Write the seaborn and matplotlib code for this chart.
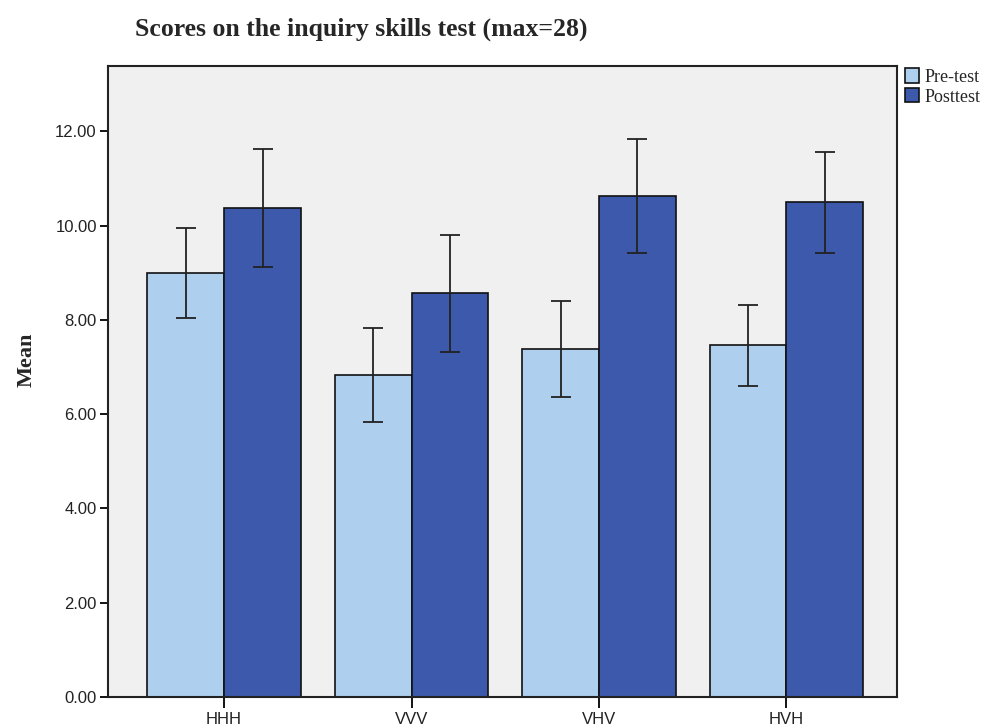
import matplotlib
matplotlib.use("Agg")
import matplotlib.pyplot as plt
import seaborn as sns
import pandas as pd
import numpy as np

groups = ["HHH", "VVV", "VHV", "HVH"]
tests = ["Pre-test", "Posttest"]
pre_means = [8.99, 6.83, 7.38, 7.46]
post_means = [10.37, 8.56, 10.62, 10.49]
pre_err = [0.96, 1.00, 1.01, 0.86]
post_err = [1.26, 1.24, 1.21, 1.07]
colors = ["#AED0EE", "#3D59AB"]

df = pd.DataFrame({
    "group": groups * 2,
    "test": [tests[0]] * 4 + [tests[1]] * 4,
    "mean": pre_means + post_means,
    "err": pre_err + post_err,
})

sns.set_style("white")
plt.rcParams["font.family"] = ["Liberation Sans", "DejaVu Sans"]
serif = ["Liberation Serif", "DejaVu Serif"]

fig = plt.figure(figsize=(9.9, 7.28), dpi=100)
ax = fig.add_axes([0.109, 0.0426, 0.797, 0.8665])
ax.set_facecolor("#F0F0F0")

sns.barplot(data=df, x="group", y="mean", hue="test", palette=colors,
            order=groups, hue_order=tests, errorbar=None, width=0.82,
            saturation=1, edgecolor="#111111", linewidth=1.2, ax=ax, legend=True)

# error bars at bar centres
for container, t in zip(ax.containers, tests):
    sub = df[df["test"] == t].set_index("group").loc[groups]
    xs = [p.get_x() + p.get_width() / 2 for p in container.patches]
    ax.errorbar(xs, sub["mean"].values, yerr=sub["err"].values, fmt="none",
                ecolor="#222222", elinewidth=1.3, capsize=7, capthick=1.3, zorder=5)

ax.set_xlim(-0.62, 3.59)
ax.set_ylim(0, 13.38)
ax.set_yticks(np.arange(0, 13, 2))
ax.set_yticklabels([f"{v:.2f}" for v in np.arange(0, 13, 2)], fontsize=12, color="#222222")
ax.set_xticks(range(len(groups)))
ax.set_xticklabels(groups, fontsize=12, color="#222222")
ax.tick_params(axis="y", direction="out", length=6, width=1.3, left=True, color="black", pad=2)
ax.tick_params(axis="x", direction="out", length=8, width=1.3, bottom=True, color="black", pad=3)
for s in ax.spines.values():
    s.set_color("#222222")
    s.set_linewidth(1.5)

ax.set_xlabel("")
ax.set_ylabel("Mean", fontsize=16, fontweight="bold", family=serif)
ax.yaxis.set_label_coords(-0.09, 0.534)

fig.text(0.136, 0.96, "Scores on the inquiry skills test (max=28)", fontsize=18.5,
         fontweight="bold", family=serif, va="center", ha="left")

leg = ax.legend(loc="upper left", bbox_to_anchor=(1.003, 1.005), frameon=False,
                prop={"family": serif, "size": 13},
                handlelength=0.8, handleheight=0.85, handletextpad=0.3, labelspacing=0.12,
                borderaxespad=0.2, borderpad=0.1)

fig.savefig("out.png", dpi=100)
